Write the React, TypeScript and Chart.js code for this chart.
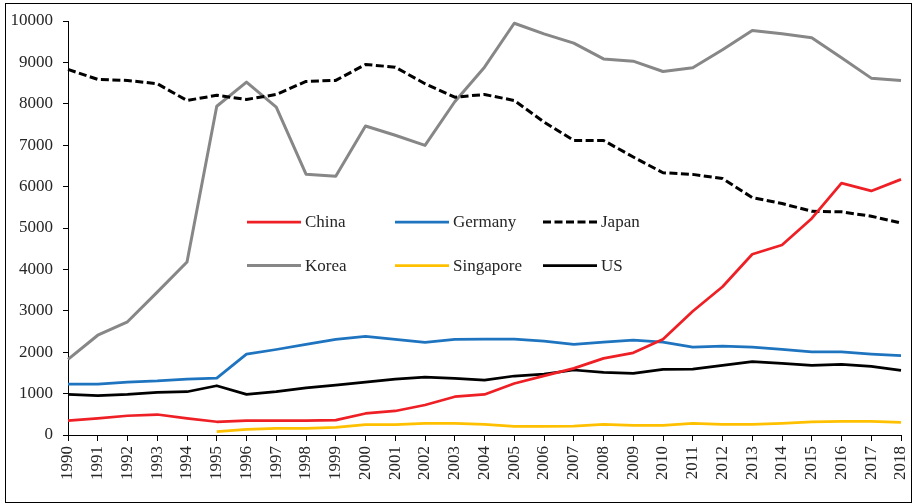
import React, { useEffect, useRef } from 'react';
import { Chart, registerables } from 'chart.js';

Chart.register(...registerables);

const FONT = "'Liberation Serif', 'Times New Roman', serif";

const years = [
  '1990', '1991', '1992', '1993', '1994', '1995', '1996', '1997', '1998', '1999',
  '2000', '2001', '2002', '2003', '2004', '2005', '2006', '2007', '2008', '2009',
  '2010', '2011', '2012', '2013', '2014', '2015', '2016', '2017', '2018',
];

const china = [350, 400, 465, 495, 400, 320, 345, 345, 345, 360, 520, 580, 725, 925, 980, 1245, 1430, 1610, 1850, 1985, 2310, 2990, 3580, 4365, 4590, 5230, 6085, 5895, 6175];
const germany = [1230, 1230, 1280, 1305, 1350, 1375, 1955, 2065, 2190, 2310, 2380, 2310, 2235, 2310, 2315, 2315, 2270, 2190, 2245, 2290, 2245, 2125, 2145, 2125, 2070, 2010, 2010, 1955, 1915];
const japan = [8830, 8590, 8565, 8485, 8080, 8205, 8105, 8225, 8540, 8565, 8950, 8885, 8485, 8160, 8225, 8080, 7560, 7115, 7115, 6715, 6335, 6295, 6195, 5735, 5590, 5405, 5390, 5285, 5120];
const korea = [1825, 2410, 2735, 3450, 4180, 7940, 8525, 7920, 6300, 6250, 7465, 7240, 6995, 8050, 8885, 9945, 9690, 9465, 9085, 9030, 8780, 8870, 9305, 9770, 9690, 9595, 9110, 8620, 8565];
const singapore = [null, null, null, null, null, 80, 135, 160, 160, 185, 250, 250, 280, 280, 255, 210, 210, 215, 255, 235, 235, 280, 255, 255, 280, 315, 330, 330, 305];
const us = [980, 950, 980, 1030, 1045, 1190, 980, 1045, 1140, 1205, 1280, 1350, 1400, 1365, 1325, 1425, 1470, 1570, 1510, 1490, 1585, 1590, 1680, 1775, 1730, 1680, 1705, 1655, 1560];

const yTicks = [0, 1000, 2000, 3000, 4000, 5000, 6000, 7000, 8000, 9000, 10000];

const insideLegend = {
  id: 'insideLegend',
  afterDraw(chart: any) {
    const { ctx, chartArea } = chart;
    const startX = chartArea.left + 179;
    const colW = 148;
    const rowY = [chartArea.top + 201, chartArea.top + 244.5];
    const lineLen = 54;
    ctx.save();
    ctx.font = `17px ${FONT}`;
    ctx.textBaseline = 'middle';
    ctx.textAlign = 'left';
    chart.data.datasets.forEach((ds: any, i: number) => {
      const col = i % 3;
      const row = Math.floor(i / 3);
      const x = startX + col * colW;
      const y = rowY[row];
      ctx.strokeStyle = ds.borderColor;
      ctx.lineWidth = ds.borderWidth;
      ctx.setLineDash(ds.borderDash || []);
      ctx.beginPath();
      ctx.moveTo(x, y);
      ctx.lineTo(x + lineLen, y);
      ctx.stroke();
      ctx.setLineDash([]);
      ctx.fillStyle = '#262626';
      ctx.fillText(ds.label, x + lineLen + 4, y + 1);
    });
    ctx.restore();
  },
};

export default function App() {
  const ref = useRef<HTMLCanvasElement>(null);

  useEffect(() => {
    const mk = (label: string, data: any[], color: string, width: number, dash?: number[]) => ({
      label,
      data,
      borderColor: color,
      backgroundColor: color,
      borderWidth: width,
      borderDash: dash,
      pointRadius: 0,
      tension: 0,
      fill: false,
      spanGaps: false,
      borderJoinStyle: 'round' as const,
    });
    const chart = new Chart(ref.current!, {
      type: 'line',
      data: {
        labels: years,
        datasets: [
          mk('China', china, '#ee2026', 2.75),
          mk('Germany', germany, '#1f74c0', 2.75),
          mk('Japan', japan, '#000000', 3, [8, 3.5]),
          mk('Korea', korea, '#878787', 3),
          mk('Singapore', singapore, '#ffc000', 2.75),
          mk('US', us, '#000000', 2.75),
        ],
      },
      options: {
        animation: false,
        responsive: false,
        layout: { padding: { left: 0, right: 11, top: 21, bottom: 0 } },
        plugins: { legend: { display: false }, tooltip: { enabled: false } },
        scales: {
          x: {
            type: 'category',
            offset: false,
            grid: { display: true, drawOnChartArea: false, drawTicks: true, tickLength: 6, color: '#000' },
            border: { display: true, color: '#000', width: 1 },
            ticks: {
              autoSkip: false,
              maxRotation: 90,
              minRotation: 90,
              padding: 5,
              color: '#262626',
              font: { family: FONT, size: 17 },
            },
            afterFit: (s: any) => {
              s.height = 69;
              s.paddingLeft = 0;
              s.paddingRight = 0;
            },
          },
          y: {
            min: 0,
            max: 10000,
            afterBuildTicks: (s: any) => { s.ticks = yTicks.map((v) => ({ value: v })); },
            grid: { display: true, drawOnChartArea: false, drawTicks: true, tickLength: 5, color: '#000' },
            border: { display: true, color: '#000', width: 1 },
            ticks: {
              padding: 10,
              color: '#262626',
              font: { family: FONT, size: 17 },
              callback: (v: any) => String(v),
            },
            afterFit: (s: any) => {
              s.width = 68;
              s.paddingTop = 0;
              s.paddingBottom = 0;
            },
          },
        },
      },
      plugins: [insideLegend],
    });
    return () => chart.destroy();
  }, []);

  return (
    <div style={{ position: 'absolute', left: 0, top: 0, width: 912, height: 504, background: '#fff', overflow: 'hidden' }}>
      <div style={{ position: 'absolute', left: 5, top: 3, width: 905, height: 498, border: '1px solid #000' }} />
      <canvas ref={ref} width={912} height={504} style={{ position: 'absolute', left: 0, top: 0, width: 912, height: 504 }} />
    </div>
  );
}
